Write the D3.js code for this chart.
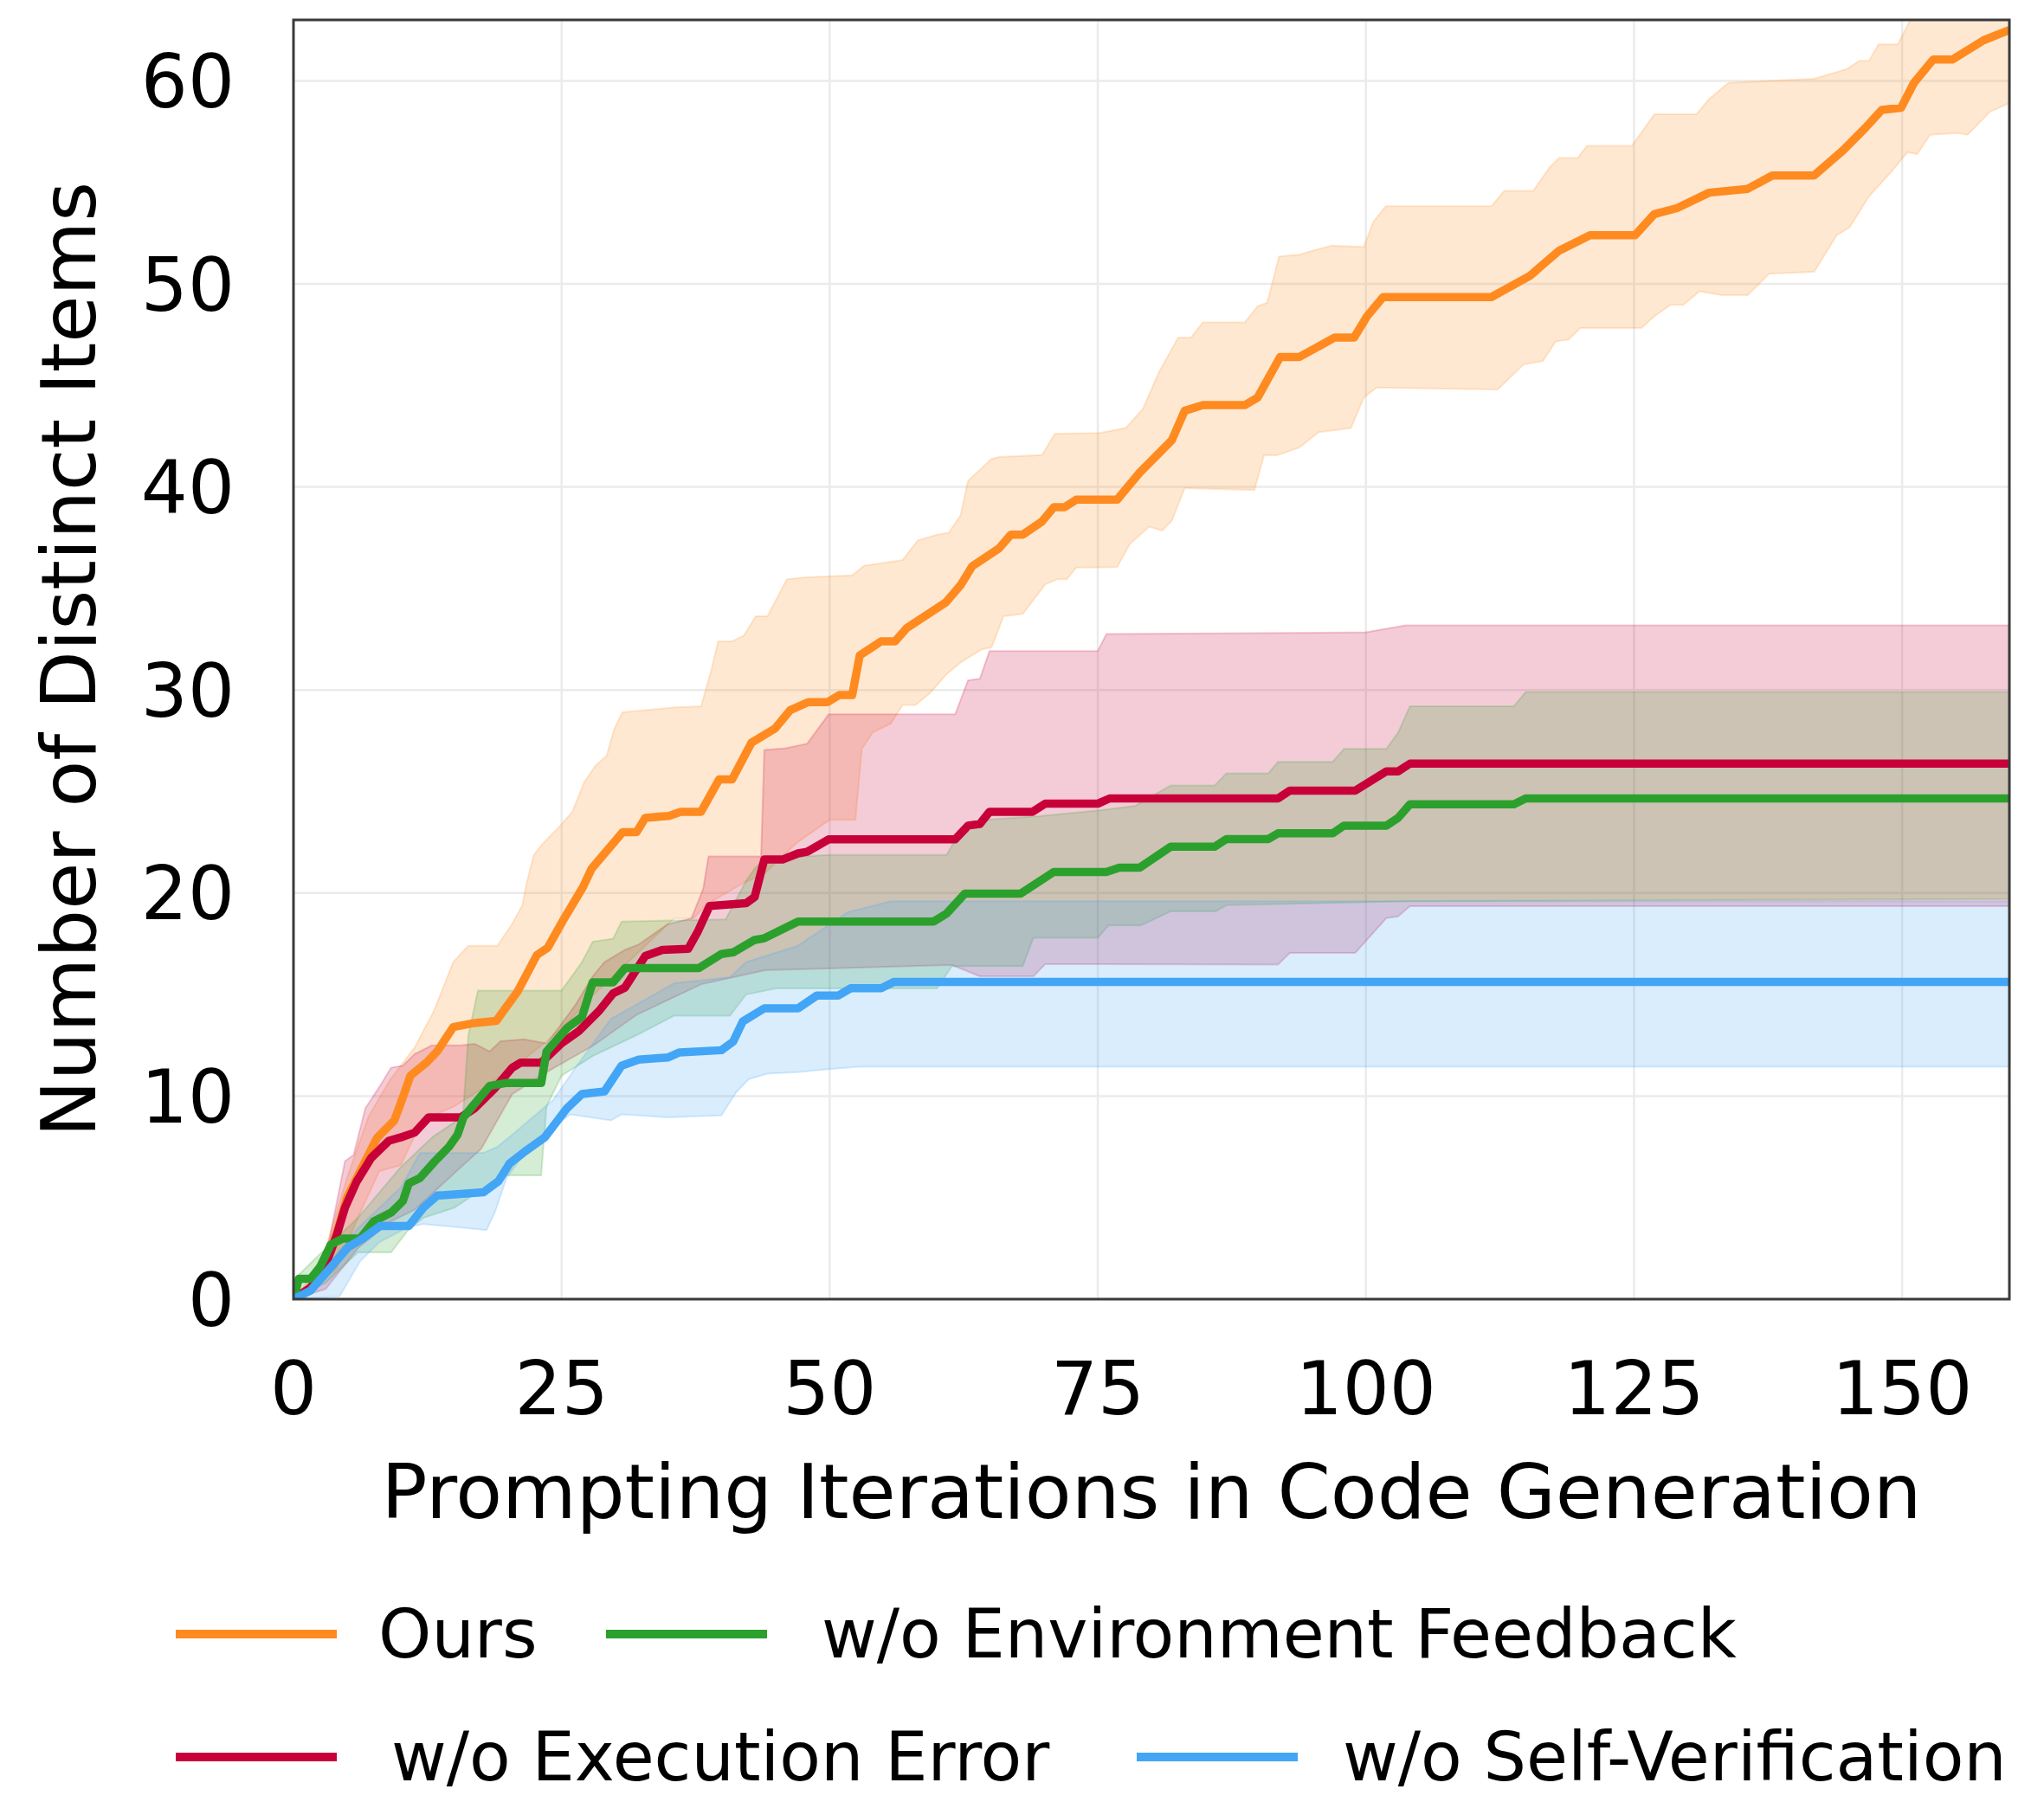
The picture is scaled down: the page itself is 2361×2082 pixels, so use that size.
<!DOCTYPE html>
<html>
<head>
<meta charset="utf-8">
<script src="https://cdn.jsdelivr.net/npm/d3@7"></script>
<style>
  body { margin: 0; background: #fff; }
  text { font-family: "DejaVu Sans", sans-serif; fill: #000; }
</style>
</head>
<body>
<svg id="chart" width="2361" height="2082"></svg>
<script>
const xTicks = [0, 25, 50, 75, 100, 125, 150];
const yTicks = [0, 10, 20, 30, 40, 50, 60];

// [iteration, items] breakpoints
const oursMean = [[0,0],[1.6,0.57],[2.7,1.3],[4,3.2],[5,5],[6.7,6.8],[7.8,7.95],[9.4,8.8],[10.2,9.94],[10.9,11.0],[12.4,11.65],[13.4,12.2],[14.9,13.4],[16.9,13.6],[18.9,13.7],[20.9,15.15],[22.7,16.95],[23.7,17.3],[25.3,18.8],[27.0,20.3],[27.8,21.2],[30.7,23.0],[32.0,23.0],[32.8,23.7],[35.0,23.8],[36.1,24.0],[38.0,24.0],[39.7,25.6],[40.9,25.6],[42.7,27.4],[44.9,28.1],[46.3,29.0],[48.0,29.4],[49.8,29.4],[50.9,29.75],[52.1,29.75],[52.8,31.7],[54.8,32.4],[56.1,32.4],[57.2,33.06],[60.8,34.3],[62.2,35.16],[63.3,36.1],[65.8,36.98],[66.9,37.65],[68.0,37.65],[69.8,38.3],[70.9,39.0],[71.9,39.0],[73.0,39.37],[76.8,39.37],[78.9,40.7],[81.9,42.3],[83.1,43.75],[84.8,44.03],[88.7,44.03],[89.9,44.4],[92.0,46.4],[93.8,46.4],[97.1,47.36],[98.9,47.36],[100.1,48.4],[101.6,49.35],[111.7,49.35],[115.3,50.4],[118.0,51.63],[120.9,52.4],[125.1,52.4],[126.9,53.44],[129.0,53.73],[132.0,54.49],[135.6,54.68],[137.9,55.34],[141.8,55.34],[144.5,56.58],[146.6,57.7],[148.1,58.57],[149.9,58.67],[151.1,59.9],[152.9,61.05],[154.7,61.05],[157.6,62.0],[160,62.5]];
const oursHigh = [[0,0],[1.5,1.0],[3,2.5],[5,6],[7,9],[9,10.8],[11.3,12.4],[13.1,14.2],[14.9,16.6],[16.3,17.4],[19,17.4],[20.3,18.4],[21.35,19.4],[21.7,20.4],[22.4,21.86],[23.1,22.35],[24.9,23.33],[26,24],[27.1,25.45],[28.15,26.27],[29.2,26.76],[29.9,28.07],[30.66,28.9],[35.3,29.13],[38,29.2],[38.9,30.85],[39.6,32.4],[40.9,32.4],[42,32.68],[43.1,33.63],[44.2,33.63],[46,35.45],[47.8,35.55],[52.1,35.64],[53.2,36.12],[56.8,36.4],[58.2,37.36],[60,37.65],[61.1,37.74],[62.2,38.6],[62.9,40.3],[65.1,41.38],[65.8,41.47],[69.8,41.57],[71,42.62],[75.2,42.66],[77.6,42.9],[79.2,43.84],[80.7,45.65],[82.5,47.36],[83.7,47.36],[84.8,48.1],[88.7,48.1],[89.9,48.9],[90.8,49.07],[91.9,51.35],[93.8,51.44],[95,51.63],[96.8,51.88],[99.8,51.82],[100.7,53.06],[101.85,53.82],[111.7,53.82],[112.9,54.58],[115.6,54.58],[117.1,55.72],[118,56.2],[119.75,56.2],[120.6,56.8],[124.8,56.8],[126.9,58.35],[130.8,58.35],[132,59.1],[133.8,59.9],[141.8,60.1],[144.8,60.57],[146,60.99],[146.9,60.99],[147.8,61.8],[149.6,61.8],[150.95,63.2],[152.5,64.5],[160,66]];
const oursLow = [[0,0],[4,1.5],[6,4],[8,6.3],[10,6.6],[12,8.8],[15,9.5],[18,10.5],[21,11.6],[25,13.3],[28,15],[32,17],[35.5,18.76],[37.3,18.76],[38.7,19.5],[42,20.5],[44,21.0],[47,22.5],[50,23.6],[52.4,23.6],[53,27.1],[54,27.9],[55.7,28.35],[56.8,29.26],[58,29.26],[59.4,29.87],[60.9,30.78],[62.3,31.39],[64.2,32.0],[65.1,32.1],[66.2,33.63],[68,33.75],[70.1,35.2],[71.2,35.45],[72.1,35.45],[73,36.03],[76.8,36.05],[78,37.2],[79.8,38.04],[81,37.85],[81.9,38.33],[83.1,39.94],[89.6,39.85],[90.5,41.56],[91.7,41.56],[93.8,41.94],[95.6,42.7],[98.6,42.9],[99.8,44.4],[101,44.9],[112.3,44.8],[114.7,46.03],[116.5,46.2],[117.7,47.17],[118.9,47.26],[120,47.83],[125.7,47.83],[126.9,48.4],[128.4,48.97],[129.6,48.97],[131.1,49.64],[133.2,49.45],[135.6,49.45],[137.6,50.5],[141.8,50.6],[143.9,52.4],[145.1,52.78],[146.9,54.3],[149,55.53],[150.5,56.48],[151.4,56.39],[152.6,57.34],[155.2,57.43],[156.1,57.34],[158.2,58.48],[160,58.9]];

const execMean = [[0,0],[1.6,0.57],[2.7,1.28],[4,3.1],[4.8,4.5],[5.9,5.8],[7.25,6.96],[8.9,7.8],[10.2,8.0],[11.3,8.2],[12.6,8.95],[15.6,8.95],[16.9,9.4],[18.8,10.4],[20.4,11.4],[21.2,11.65],[23.1,11.65],[25,12.6],[26.6,13.2],[28.5,14.2],[29.8,15.06],[30.9,15.34],[32.8,16.9],[34.4,17.2],[36.8,17.25],[37.7,18.1],[38.8,19.36],[42.2,19.5],[43.0,19.8],[43.9,21.65],[45.6,21.65],[47.05,21.95],[47.9,22.03],[49.9,22.64],[61.7,22.64],[62.9,23.32],[64.0,23.4],[64.9,24.0],[68.9,24.0],[70.1,24.4],[75,24.4],[76.1,24.66],[91.8,24.66],[92.9,25.04],[99,25.04],[101.9,25.99],[103,25.99],[104.1,26.37],[160,26.37]];
const execHigh = [[0,0],[1.5,0.8],[3.2,2.56],[4.8,6.8],[5.6,7.1],[6.7,9.4],[8.06,10.5],[9.1,11.4],[10.2,11.5],[11.3,12.07],[12.9,12.5],[15.6,12.5],[16.9,12.57],[18.3,12.2],[19.3,12.7],[21.5,12.8],[23.6,12.6],[24.7,13.35],[26.3,14.5],[27.9,15.9],[29,16.6],[30.9,17.2],[32.2,17.47],[34.9,18.47],[37.1,18.75],[38.2,20.2],[38.7,21.8],[43.6,21.8],[43.9,27.05],[45.9,27.13],[47.9,27.36],[49.9,28.8],[61.7,28.8],[62.9,30.48],[64,30.55],[64.9,31.92],[75,31.92],[75.8,32.76],[100,32.84],[103.7,33.18],[160,33.18]];
const execLow = [[0,0],[3,0.5],[6,2.5],[9,3.8],[11.3,4.4],[15,6.2],[17.5,7.4],[20.4,10.1],[24,11.3],[28,12.5],[32,14],[38,15.5],[44,16.2],[61.4,16.45],[64,15.9],[69,15.9],[70.1,16.5],[91.8,16.47],[92.9,17.05],[99,17.05],[101.9,18.76],[103,18.85],[104.1,19.35],[160,19.35]];

const envMean = [[0,0],[0.5,1.0],[1.6,1.0],[2.5,1.6],[3.5,2.7],[4.6,2.98],[6.2,2.98],[7.5,3.84],[9.1,4.26],[10.2,4.83],[10.75,5.7],[11.8,5.97],[13.2,6.8],[14.5,7.5],[15.3,8.1],[15.85,8.95],[16.7,9.5],[18.3,10.5],[19.9,10.65],[23.1,10.65],[23.6,12.2],[25.5,13.35],[26.9,13.9],[27.9,15.6],[29.8,15.6],[30.9,16.3],[37.8,16.3],[39.9,17.0],[41.0,17.08],[43.0,17.69],[43.9,17.77],[47.05,18.6],[59.7,18.6],[60.9,18.99],[62.6,19.97],[67.8,19.97],[70.9,21.04],[75.8,21.04],[77,21.25],[78.9,21.25],[81.8,22.28],[85.9,22.28],[87,22.66],[90.9,22.66],[91.8,22.94],[96.9,22.94],[97.95,23.32],[101.9,23.32],[103,23.7],[104.1,24.37],[113.8,24.37],[114.9,24.66],[160,24.66]];
const envHigh = [[0,0],[0.5,1.2],[3,2.5],[6,4],[10,6.5],[13,8],[15.8,9],[16.3,13],[17.2,15.2],[25,15.2],[26.9,16.6],[27.9,17.6],[29.8,17.75],[30.6,18.6],[40.3,18.7],[42.2,20.6],[43,21.2],[43.9,21.7],[49.9,21.88],[60.9,21.88],[62,22.9],[64.3,23.6],[69.5,23.78],[75.3,24.08],[78.5,24.3],[81.8,25.3],[85.9,25.3],[87,25.9],[90.9,25.9],[91.8,26.46],[96.9,26.46],[97.95,27.1],[101.9,27.1],[103,27.9],[104.1,29.2],[113.8,29.2],[114.9,29.9],[160,29.9]];
const envLow = [[0,0],[3,0.8],[6,2.3],[9.1,2.3],[10.7,3.4],[12.1,4.0],[15,4.5],[17,5.2],[19.9,6.1],[23.1,6.1],[23.6,9.5],[25,11.0],[28,12.0],[32,13.0],[35.5,13.96],[40.7,13.96],[42.2,15.0],[45,15.3],[60,15.3],[61.4,16.4],[68,16.4],[69,17.8],[75,17.8],[76,18.4],[79,18.4],[81.8,19.1],[86,19.1],[87,19.4],[104,19.6],[160,19.7]];

const selfMean = [[0,0],[1.6,0.43],[3.2,1.4],[5.1,2.56],[6.45,2.98],[8.06,3.6],[10.75,3.6],[12.1,4.5],[13.4,5.1],[17.7,5.26],[19.1,5.8],[20.15,6.68],[21.5,7.24],[23.4,7.95],[24.2,8.5],[25.5,9.4],[26.9,10.1],[29,10.23],[30.6,11.5],[32.2,11.8],[34.9,11.9],[36,12.15],[39.9,12.26],[41,12.68],[41.9,13.68],[43.9,14.32],[47.05,14.32],[48.8,14.95],[50.8,14.95],[51.95,15.31],[54.8,15.31],[55.98,15.62],[160,15.62]];
const selfHigh = [[0,0],[3,1.5],[6,3.5],[10,5.5],[11.8,7.2],[17.7,7.2],[19,7.5],[20.4,8.1],[24.2,9.8],[26.3,11.4],[29.6,13.8],[35.5,15.56],[40.7,15.86],[42.2,16.6],[47,17.4],[51.7,19.06],[55.7,19.6],[160,19.6]];
const selfLow = [[0,0],[4.3,0.14],[6.2,1.85],[8,2.8],[10.7,3.55],[12.1,3.7],[18,3.4],[18.8,4.3],[19.9,6.0],[22,7.5],[25.8,9.1],[29.6,8.8],[30.6,9.1],[34.9,8.95],[39.9,9.05],[41.3,10.2],[42.45,10.83],[44.2,11.1],[47.05,11.18],[49.9,11.33],[52.8,11.45],[160,11.45]];

const seriesNames = ["Ours", "w/o Execution Error", "w/o Environment Feedback", "w/o Self-Verification"];
const seriesColors = ["#ff8a1f", "#c8003a", "#2ca02c", "#42a5f5"];

const series = [
    { name: seriesNames[0], color: seriesColors[0], mean: oursMean, low: oursLow, high: oursHigh },
    { name: seriesNames[1], color: seriesColors[1], mean: execMean, low: execLow, high: execHigh },
    { name: seriesNames[2], color: seriesColors[2], mean: envMean,  low: envLow,  high: envHigh },
    { name: seriesNames[3], color: seriesColors[3], mean: selfMean, low: selfLow, high: selfHigh },
];

const plot = { left: 339, top: 23, right: 2321, bottom: 1501 };

const svg = d3.select("#chart");

const x = d3.scaleLinear().domain([0, 160]).range([plot.left, plot.right]);
const y = d3.scaleLinear().domain([0, 63]).range([plot.bottom, plot.top]);

svg.append("defs").append("clipPath").attr("id", "clip")
    .append("rect")
    .attr("x", plot.left).attr("y", plot.top)
    .attr("width", plot.right - plot.left).attr("height", plot.bottom - plot.top);

// grid
const grid = svg.append("g");
grid.selectAll(".gx").data(xTicks.filter(t => t > 0)).join("line")
    .attr("x1", d => x(d)).attr("x2", d => x(d))
    .attr("y1", plot.top).attr("y2", plot.bottom)
    .attr("stroke", "#ebebeb").attr("stroke-width", 2.5);
grid.selectAll(".gy").data(yTicks.filter(t => t > 0)).join("line")
    .attr("x1", plot.left).attr("x2", plot.right)
    .attr("y1", d => y(d)).attr("y2", d => y(d))
    .attr("stroke", "#ebebeb").attr("stroke-width", 2.5);

const line = d3.line().x(d => x(d[0])).y(d => y(d[1]));
const g = svg.append("g").attr("clip-path", "url(#clip)");

// bands
g.selectAll(".band").data(series).join("path")
    .attr("d", s => line(s.high.concat(s.low.slice().reverse())) + "Z")
    .attr("fill", s => s.color).attr("fill-opacity", 0.2)
    .attr("stroke", s => s.color).attr("stroke-opacity", 0.2).attr("stroke-width", 2);

// mean lines
g.selectAll(".mean").data(series).join("path")
    .attr("d", s => line(s.mean))
    .attr("fill", "none")
    .attr("stroke", s => s.color).attr("stroke-width", 9.5)
    .attr("stroke-linejoin", "round");

// frame
svg.append("rect")
    .attr("x", plot.left).attr("y", plot.top)
    .attr("width", plot.right - plot.left).attr("height", plot.bottom - plot.top)
    .attr("fill", "none").attr("stroke", "#3a3a3a").attr("stroke-width", 3);

// tick labels
svg.append("g").selectAll("text").data(yTicks).join("text")
    .attr("x", 271).attr("y", d => y(d)).attr("dy", "0.36em")
    .attr("text-anchor", "end").attr("font-size", 85)
    .text(d => d);

svg.append("g").selectAll("text").data(xTicks).join("text")
    .attr("x", d => x(d)).attr("y", 1634)
    .attr("text-anchor", "middle").attr("font-size", 85)
    .text(d => d);

// axis titles
svg.append("text")
    .attr("x", (plot.left + plot.right) / 2).attr("y", 1754)
    .attr("text-anchor", "middle").attr("font-size", 88)
    .text("Prompting Iterations in Code Generation");

svg.append("text")
    .attr("transform", "translate(110," + (plot.top + plot.bottom) / 2 + ") rotate(-90)")
    .attr("text-anchor", "middle").attr("font-size", 88)
    .text("Number of Distinct Items");

// legend (two columns, column-major like matplotlib)
const legendPos = [
    { lx: 203, ly: 1888, tx: 437 },
    { lx: 203, ly: 2030, tx: 452 },
    { lx: 700, ly: 1888, tx: 949 },
    { lx: 1313, ly: 2030, tx: 1551 },
];
const leg = svg.append("g").selectAll("g").data(series).join("g");
leg.append("line")
    .attr("x1", (d, i) => legendPos[i].lx).attr("x2", (d, i) => legendPos[i].lx + 186)
    .attr("y1", (d, i) => legendPos[i].ly).attr("y2", (d, i) => legendPos[i].ly)
    .attr("stroke", d => d.color).attr("stroke-width", 10);
leg.append("text")
    .attr("x", (d, i) => legendPos[i].tx).attr("y", (d, i) => legendPos[i].ly + 27)
    .attr("font-size", 78)
    .text(d => d.name);
</script>
</body>
</html>
